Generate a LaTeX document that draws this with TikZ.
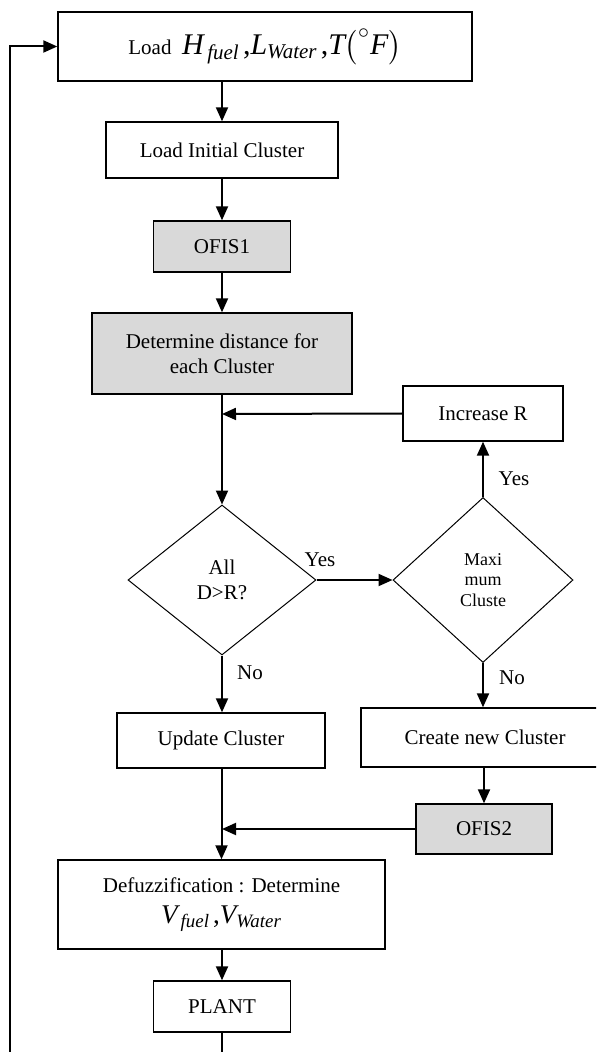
\documentclass[tikz,border=0pt]{standalone}
\usepackage{amsmath}
\usepackage{fontspec}
\setmainfont{Liberation Serif}
\usetikzlibrary{arrows.meta,shapes.geometric}
\definecolor{boxgray}{RGB}{217,217,217}
\newcommand{\mi}[1]{\textit{#1}}
\begin{document}
\begin{tikzpicture}[x=0.5pt,y=-0.5pt,
  box/.style={draw, line width=0.7pt, rectangle, inner sep=0pt, align=center, font=\fontsize{10.5}{12.5}\selectfont},
  gbox/.style={box, fill=boxgray},
  dia/.style={draw, diamond, line width=0.5pt, inner sep=0pt, align=center, font=\fontsize{10.5}{12.5}\selectfont},
  arr/.style={line width=1pt, -{Triangle[length=7pt,width=6pt]}},
  lbl/.style={font=\fontsize{10.5}{12.5}\selectfont, inner sep=0pt}
]
\useasboundingbox (0,0) rectangle (596,1052);
\clip (0,0) rectangle (596,1052);

\node[box, minimum width=207pt, minimum height=34.5pt] (top) at (265,46.5)
  {Load\ \ {\fontsize{15}{18}\selectfont $\mi{H}_{\,\mi{fuel}}\mkern2mu\textup{,}\mi{L}_{\mi{Water}}\mkern2mu\textup{,}\mi{T}\bigl(^{\circ}\mi{F}\bigr)$}};
\node[box, minimum width=116pt, minimum height=28pt] (init) at (222,150) {Load Initial Cluster};
\node[gbox, minimum width=68.5pt, minimum height=25.5pt] (ofis1) at (222,246.5) {OFIS1};
\node[gbox, minimum width=130pt, minimum height=40.5pt] (det) at (222,353.5) {Determine distance for\\each Cluster};
\node[box, minimum width=80pt, minimum height=27.5pt] (incR) at (483,413.5) {Increase R};
\node[dia, minimum width=94pt, minimum height=75pt] (d1) at (222,580) {All\\D>R?};
\node[dia, minimum width=90pt, minimum height=82.5pt, font=\fontsize{9}{10.25}\selectfont] (d2) at (483,580) {Maxi\\mum\\Cluste};
\node[box, minimum width=104pt, minimum height=27.5pt] (upd) at (221,740.5) {Update Cluster};
\node[box, minimum width=124pt, minimum height=29.5pt] (create) at (485,737.5) {Create new Cluster};
\node[gbox, minimum width=68pt, minimum height=25pt] (ofis2) at (484,829) {OFIS2};
\node[box, minimum width=163.5pt, minimum height=44.5pt] (defuz) at (221.5,904.5)
  {Defuzzification : Determine\\[3pt]{\fontsize{13.5}{16}\selectfont $\mi{V}_{\,\mi{fuel}}\mkern2mu\textup{,}\mi{V}_{\mi{Water}}$}};
\node[box, minimum width=68.5pt, minimum height=25.5pt] (plant) at (222,1006.5) {PLANT};

\node[lbl] (yes1) at (320,560) {Yes};
\node[lbl] (yes2) at (514,479) {Yes};
\node[lbl] (no1) at (250,673) {No};
\node[lbl] (no2) at (512,678) {No};

\coordinate (lp) at (10,1090);
\coordinate (j1) at (222,414);
\coordinate (j2) at (222,829);

\draw[arr] (plant.south) |- (lp) |- (top.west);
\draw[arr] (top.south -| init.north) -- (init.north);
\draw[arr] (init.south) -- (ofis1.north);
\draw[arr] (ofis1.south) -- (det.north);
\draw[arr] (det.south) -- (d1.north);
\draw[arr] (incR.west) -- (j1);
\draw[arr] (d1.east) -- (d2.west);
\draw[arr] (d2.north) -- (d2.north |- incR.south);
\draw[arr] (d2.south) -- (d2.south |- create.north);
\draw[arr] (d1.south) -- (d1.south |- upd.north);
\draw[arr] (create.south -| ofis2.north) -- (ofis2.north);
\draw[arr] (ofis2.west) -- (j2);
\draw[arr] (upd.south -| defuz.north) -- (defuz.north);
\draw[arr] (defuz.south -| plant.north) -- (plant.north);
\end{tikzpicture}
\end{document}
